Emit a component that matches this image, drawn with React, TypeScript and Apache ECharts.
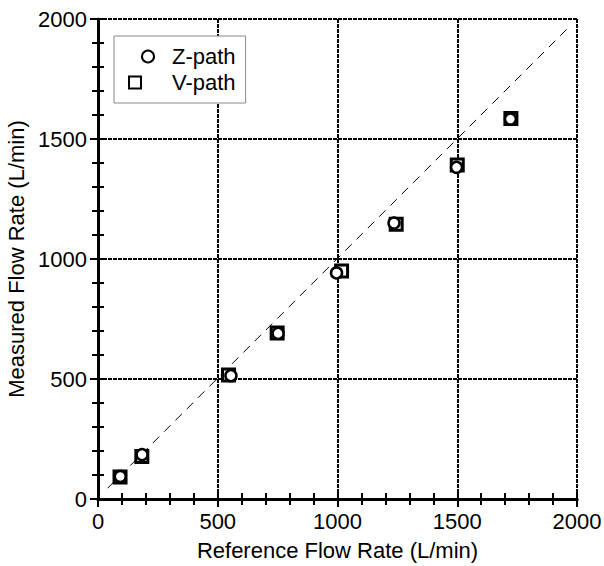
import React, { useEffect, useRef } from "react";
import * as echarts from "echarts";

const xTicks = [0, 500, 1000, 1500, 2000];
const zPath: [number, number][] = [
  [93, 94], [184, 185], [555, 514], [752, 690], [996, 942], [1236, 1150], [1497, 1382], [1722, 1583],
];
const vPath: [number, number][] = [
  [92, 92], [183, 177], [545, 517], [748, 692], [1017, 950], [1245, 1145], [1500, 1392], [1724, 1585],
];
const refLine: [number, number][] = [[40, 45], [1965, 1965]];

const FONT = "'Liberation Sans', Arial, sans-serif";

function makeAxis(pos: string, main: boolean) {
  return {
    type: "value",
    min: xTicks[0],
    max: xTicks[xTicks.length - 1],
    interval: 500,
    position: pos,
    axisLine: {
      show: true,
      lineStyle: main ? { color: "#000", width: 3 } : { color: "#000", width: 3, type: [4, 1] },
    },
    axisTick: { show: true, inside: true, length: 8, lineStyle: { color: "#000", width: 2 } },
    minorTick: { show: true, splitNumber: 5, length: 6, lineStyle: { color: "#000", width: 2 } },
    axisLabel: main
      ? { show: true, color: "#000", fontSize: 22, fontFamily: FONT, margin: 11, formatter: (v: number) => String(v) }
      : { show: false },
    splitLine: main
      ? { show: true, lineStyle: { color: "#000", width: 2, type: [4, 1] } }
      : { show: false },
  };
}

export default function App() {
  const ref = useRef<HTMLDivElement>(null);
  useEffect(() => {
    document.body.style.margin = "0";
    const chart = echarts.init(ref.current!, null, { renderer: "svg" });
    chart.setOption({
      animation: false,
      backgroundColor: "#fff",
      grid: { left: 98, right: 27, top: 19, bottom: 67, outerBoundsMode: "none" },
      legend: {
        data: ["Z-path", "V-path"],
        orient: "vertical",
        left: 114,
        top: 36,
        backgroundColor: "#fff",
        borderColor: "#888",
        borderWidth: 1,
        padding: [9, 10, 9, 14],
        itemWidth: 38,
        itemHeight: 12,
        itemGap: 3,
        textStyle: { color: "#000", fontSize: 22, fontFamily: FONT, lineHeight: 23 },
      },
      xAxis: [
        {
          ...makeAxis("bottom", true),
          name: "Reference Flow Rate (L/min)",
          nameLocation: "middle",
          nameGap: 40,
          nameTextStyle: { color: "#000", fontSize: 22, fontFamily: FONT },
        },
        makeAxis("top", false),
      ],
      yAxis: [
        {
          ...makeAxis("left", true),
          name: "Measured Flow Rate (L/min)",
          nameLocation: "middle",
          nameGap: 67,
          nameTextStyle: { color: "#000", fontSize: 22, fontFamily: FONT },
        },
        makeAxis("right", false),
      ],
      series: [
        {
          name: "ref",
          type: "line",
          data: refLine,
          symbol: "none",
          silent: true,
          lineStyle: { color: "#000", width: 1, type: [9, 7] },
          z: 1,
        },
        {
          name: "V-path",
          type: "scatter",
          data: vPath,
          symbol: "square",
          symbolSize: 12,
          itemStyle: { color: "#fff", borderColor: "#000", borderWidth: 3, opacity: 1 },
          z: 3,
        },
        {
          name: "Z-path",
          type: "scatter",
          data: zPath,
          symbol: "circle",
          symbolSize: 11,
          itemStyle: { color: "#fff", borderColor: "#000", borderWidth: 2.5, opacity: 1 },
          z: 4,
        },
      ],
    });
    return () => chart.dispose();
  }, []);
  return <div ref={ref} style={{ position: "absolute", left: 0, top: 0, width: 604, height: 566 }} />;
}
